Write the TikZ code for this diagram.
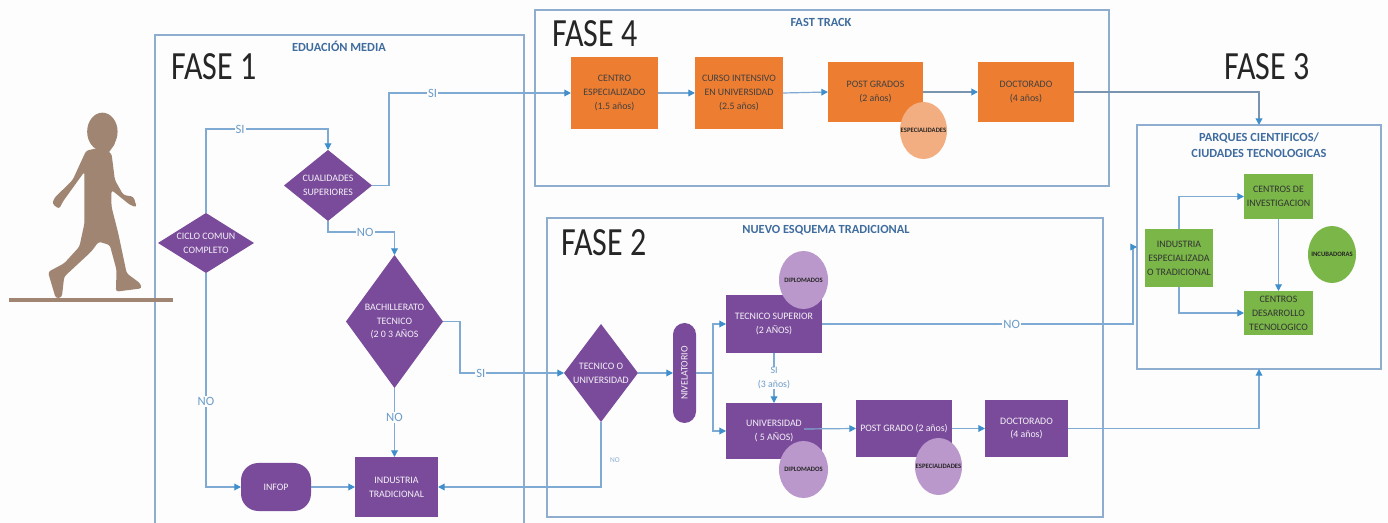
\documentclass[tikz,border=0pt]{standalone}
\usepackage{fontspec}
\setmainfont{Carlito}
\newfontfamily\fasefont[FakeStretch=0.8]{Carlito}
\usetikzlibrary{arrows.meta,shapes.geometric,shapes.misc}
\definecolor{bgc}{HTML}{FDFDFD}
\definecolor{frame}{HTML}{8FAECF}
\definecolor{flowc}{HTML}{7FAAD3}
\definecolor{tipc}{HTML}{3F8FCC}
\definecolor{purp}{HTML}{7A4B9A}
\definecolor{lilac}{HTML}{BA98CB}
\definecolor{orng}{HTML}{ED7D31}
\definecolor{lorng}{HTML}{F2AE80}
\definecolor{grn}{HTML}{7AB648}
\definecolor{titlec}{HTML}{3F6C9E}
\definecolor{brownc}{HTML}{A08572}
\definecolor{labc}{HTML}{6C9CC8}
\tikzset{
  sz/.style 2 args={minimum width=#1*0.75pt,minimum height=#2*0.75pt,inner sep=0pt,outer sep=0pt},
  small/.style={font=\fontsize{7.4}{10.4}\selectfont,align=center},
  tiny/.style={font=\fontsize{5}{7}\selectfont\bfseries,align=center,text=black!85},
  framebox/.style={draw=frame,line width=1pt,rectangle},
  pbox/.style={rectangle,fill=purp,text=white!92!purp,small},
  obox/.style={rectangle,fill=orng,text=black!75,small},
  gbox/.style={rectangle,fill=grn,text=black!80,small},
  dia/.style={diamond,fill=purp},
  dlab/.style={text=white!92!purp,small},
  circ/.style={ellipse},
  clab/.style={tiny},
  flow/.style={draw=flowc,line width=0.9pt,-{Triangle[length=5pt,width=5pt,color=tipc]}},
  flowplain/.style={draw=flowc,line width=0.9pt},
  heavy/.style={draw=frame!85!black,line width=1.3pt},
  lab/.style={fill=bgc,text=labc,font=\fontsize{9.5}{11}\selectfont,inner sep=0.8pt},
  fase/.style={font=\fasefont\fontsize{30}{32}\selectfont,text=black!85},
  ttl/.style={font=\fontsize{9.3}{12}\selectfont\bfseries,text=titlec,align=center},
}
\begin{document}
\begin{tikzpicture}[x=0.75pt,y=-0.75pt]
\useasboundingbox (0,0) rectangle (1388,523);
\fill[bgc] (0,0) rectangle (1388,523);

% frames
\draw[framebox] (155,523) -- (155,35) -- (524,35) -- (524,523);
\node[framebox,sz={574}{176}] (f4) at (822,98) {};
\node[framebox,sz={556}{299}] (f2) at (825,367.5) {};
\node[framebox,sz={244}{244}] (parques) at (1259,247) {};

% person
\begin{scope}[x=0.2534pt,y=-0.25pt,yshift=-67.5pt]
\fill[brownc] (303,125) ellipse [x radius=45,y radius=57];
\fill[brownc] (345,140) -- (338,165) -- (320,190) -- (290,170) -- cycle;
\fill[brownc,rounded corners=2pt] (300,172) -- (255,182) -- (215,270) -- (160,325) -- (155,342) -- (175,357) -- (186,335) -- (250,245) -- (250,400) -- (235,470) -- (190,520) -- (142,546) -- (165,625) -- (183,622) -- (190,560) -- (270,485) -- (292,455) -- (325,465) -- (345,540) -- (343,605) -- (420,595) -- (415,580) -- (375,550) -- (350,430) -- (330,350) -- (330,300) -- (385,345) -- (405,352) -- (395,320) -- (365,315) -- (340,270) -- (330,190) -- cycle;
\end{scope}
\draw[brownc,line width=2.4pt] (9,300) -- (173,300);

% Fase 1 nodes
\node[dia,sz={96}{60},label={[dlab]center:CICLO COMUN\\COMPLETO}] (ciclo) at (206,243) {};
\node[dia,sz={88}{71},label={[dlab]center:CUALIDADES\\SUPERIORES}] (cual) at (328,185.5) {};
\node[dia,sz={97}{133},label={[dlab]center:BACHILLERATO\\TECNICO\\(2 0 3 AÑOS}] (bach) at (394.5,321.5) {};
\node[pbox,sz={83}{60}] (ind) at (396.5,487) {INDUSTRIA\\TRADICIONAL};
\node[pbox,sz={70}{48},rounded corners=13pt] (infop) at (276,487) {INFOP};

% Fase 2 nodes
\node[dia,sz={74}{98},label={[dlab]center:TECNICO O\\UNIVERSIDAD}] (tec) at (601,373) {};
\node[pbox,sz={100}{23},rounded rectangle,rotate=90] (niv) at (684.5,373) {NIVELATORIO};
\node[pbox,sz={96}{58}] (tsup) at (774,324) {TECNICO SUPERIOR\\(2 AÑOS)};
\node[pbox,sz={96}{56}] (uni) at (774,431) {UNIVERSIDAD\\( 5 AÑOS)};
\node[pbox,sz={96}{57}] (pg) at (904,428.5) {POST GRADO (2 años)};
\node[pbox,sz={83}{57}] (doc2) at (1026.5,428.5) {DOCTORADO\\(4 años)};
\node[circ,fill=lilac,sz={49}{58},label={[clab]center:DIPLOMADOS}] (dip1) at (803.5,280) {};
\node[circ,fill=lilac,sz={49}{57},label={[clab]center:DIPLOMADOS}] (dip2) at (803.5,469.5) {};
\node[circ,fill=lilac,sz={47}{57},label={[clab]center:ESPECIALIDADES}] (esp2) at (938.5,466.5) {};

% Fase 4 nodes
\node[obox,sz={87}{72}] (centro) at (614.5,93) {CENTRO\\ESPECIALIZADO\\(1.5 años)};
\node[obox,sz={88}{72}] (curso) at (739,93) {CURSO INTENSIVO\\EN UNIVERSIDAD\\(2.5 años)};
\node[obox,sz={95}{60}] (pgs) at (875.5,92) {POST GRADOS\\(2 años)};
\node[obox,sz={96}{60}] (doc4) at (1026,92) {DOCTORADO\\(4 años)};
\node[circ,fill=lorng,sz={47}{57},label={[clab]center:ESPECIALIDADES}] (esp4) at (923.5,130.5) {};

% Fase 3 nodes
\node[gbox,sz={69}{45}] (inv) at (1278.5,196.5) {CENTROS DE\\INVESTIGACION};
\node[gbox,sz={69}{44}] (des) at (1278.5,313) {CENTROS\\DESARROLLO\\TECNOLOGICO};
\node[gbox,sz={68}{58}] (ie) at (1179,258) {INDUSTRIA\\ESPECIALIZADA\\O TRADICIONAL};
\node[circ,fill=grn,sz={48}{57},label={[clab]center:INCUBADORAS}] (inc) at (1332,254.5) {};

% connectors Fase 1
\draw[flow] (ciclo.north) -- ++(0,-84) -| node[lab,pos=0.14] {SI} (cual.north);
\draw[flow] (ciclo.south) |- node[lab,pos=0.30] {NO} (infop.west);
\draw[flow] (cual.east) -- ++(17,0) |- node[lab,pos=0.62] {SI} (centro.west);
\draw[flow] (cual.south) -- ++(0,11) -| node[lab,pos=0.28] {NO} (bach.north);
\draw[flow] (bach.east) -- ++(17,0) |- node[lab,pos=0.6] {SI} (tec.west);
\draw[flow] (bach.south) -- node[lab,pos=0.43] {NO} (bach.south |- ind.north);
\draw[flow] (infop.east) -- (ind.west);
\draw[flow] (tec.south) |- (ind.east);
\node[text=labc!80,font=\fontsize{5.5}{7}\selectfont] (nolab) at (615,460) {NO};

% connectors Fase 2
\draw[flow] (tec.east) -- (niv.north);
\coordinate (split) at (713,373);
\draw[flowplain] (niv.south) -- (split);
\draw[flow] (split) |- (tsup.west);
\draw[flow] (split) |- (uni.west);
\draw[flow] (tsup.south) -- node[fill=bgc,text=labc,font=\fontsize{7.4}{10.4}\selectfont,align=center,inner sep=0.5pt,pos=0.5] {SI\\(3 años)} (uni.north);
\coordinate (ustart) at (804,429);
\draw[flow] (ustart) -- (pg.west);
\draw[flow] (pg.east) -- (doc2.west);
\draw[flow] (doc2.east) -| (parques.south);
\draw[flow] (tsup.east) -- node[lab,pos=0.61] {NO} (1133,324) |- (parques.west);

% connectors Fase 4
\draw[flow] (centro.east) -- (curso.west);
\draw[flow] (curso.east) -- (pgs.west);
\draw[flow,heavy,-{Triangle[length=5pt,width=5pt,color=tipc]}] (pgs.east) -- (doc4.west);
\draw[flow,heavy,-{Triangle[length=5pt,width=5pt,color=tipc]}] (doc4.east) -| (parques.north);

% connectors Fase 3
\draw[flow] (ie.north) |- (inv.west);
\draw[flow] (ie.south) |- (des.west);
\draw[flow] (inv.south) -- (des.north);

% titles
\node[fase] (t1) at (214,67) {FASE 1};
\node[fase] (t4) at (595,34) {FASE 4};
\node[fase] (t2) at (604,243) {FASE 2};
\node[fase] (t3) at (1267,67) {FASE 3};
\node[ttl] (h1) at (339,46) {EDUACIÓN MEDIA};
\node[ttl] (h4) at (821,22) {FAST TRACK};
\node[ttl] (h2) at (826,230) {NUEVO ESQUEMA TRADICIONAL};
\node[ttl] (h3) at (1259,145) {PARQUES CIENTIFICOS/\\CIUDADES TECNOLOGICAS};
\end{tikzpicture}
\end{document}
